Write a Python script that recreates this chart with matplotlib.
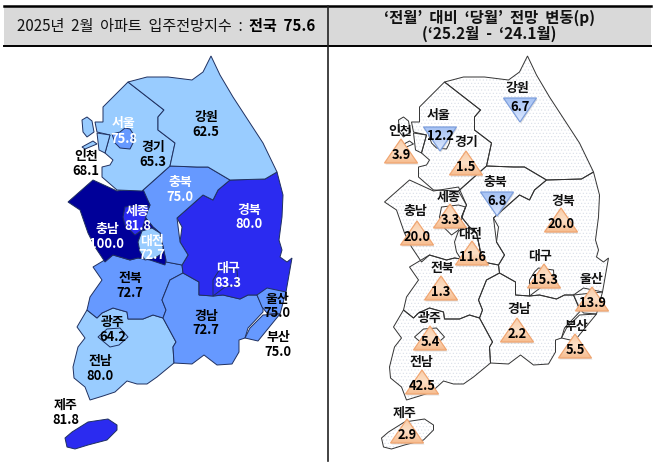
import numpy as np
import matplotlib
matplotlib.use('Agg')
import matplotlib.pyplot as plt
from matplotlib.colors import LinearSegmentedColormap
from matplotlib.patches import Polygon, Rectangle

plt.rcParams['font.family'] = ['Noto Sans CJK KR', 'DejaVu Sans']
plt.rcParams['hatch.linewidth'] = 0.4

# 입주전망지수 / 전월 대비 변동 (음수는 하락 - 아래 삼각형)
regions = ['강원', '경기', '인천', '서울', '충북', '충남', '세종', '대전', '경북', '대구',
           '전북', '경남', '울산', '부산', '전남', '광주', '제주']
index_values = [62.5, 65.3, 68.1, 75.8, 75.0, 100.0, 81.8, 72.7, 80.0, 83.3,
                72.7, 72.7, 75.0, 75.0, 80.0, 64.2, 81.8]
change_values = [-6.7, 1.5, 3.9, -12.2, -6.8, 20.0, 3.3, 11.6, 20.0, 15.3,
                 1.3, 2.2, 13.9, 5.5, 42.5, 5.4, 2.9]

LIGHT, MID, BLUE, NAVY = '#99CCFF', '#6699FF', '#2B2BF0', '#000099'
region_colors = [LIGHT, LIGHT, LIGHT, MID, MID, NAVY, BLUE, LIGHT, BLUE, BLUE,
                 MID, MID, MID, MID, LIGHT, LIGHT, BLUE]
white_labels = ['서울', '충북', '충남', '세종', '대전', '경북', '대구']

# 지도 윤곽 (그림 좌표)
outlines = {
    '전남': [[(87,310),(97,318),(102,313),(113,308),(127,312),(128,319),(143,319),(153,315),(163,318),
             (176,342),(173,347),(174,363),(157,377),(147,384),(137,384),(127,381),(115,392),(103,396),
             (90,400),(85,387),(74,378),(73,367),(78,347),(85,338),(77,327)]],
    '전북': [[(93,267),(113,255),(130,260),(138,258),(167,262),(182,265),(183,273),(170,280),(162,300),
             (166,310),(163,318),(153,315),(143,319),(128,319),(127,312),(113,308),(102,313),(97,318),
             (87,310),(90,297),(102,280)]],
    '경남': [[(183,273),(199,282),(199,295),(213,296),(223,295),(240,299),(248,295),(257,295),(263,308),
             (263,312),(248,328),(245,338),(239,340),(239,352),(232,364),(217,365),(204,355),(192,364),
             (174,363),(173,347),(176,342),(163,318),(166,310),(162,300),(170,280)]],
    '경북': [[(277,172),(283,195),(282,217),(279,240),(282,250),(280,257),(287,262),(292,258),(286,292),
             (257,295),(248,295),(240,299),(223,295),(213,296),(199,295),(199,282),(183,273),(182,265),
             (188,255),(180,242),(182,227),(177,218),(203,195),(213,200),(218,190),(230,180),(265,179)]],
    '대구': [[(213,296),(213,280),(218,272),(222,268),(237,270),(238,285),(225,287)]],
    '충북': [[(170,166),(197,167),(208,167),(230,180),(218,190),(213,200),(203,195),(177,218),(180,242),
             (188,255),(182,265),(166,262),(160,233),(153,227),(145,217),(150,205),(143,193),(142,191)]],
    '충남': [[(68,202),(93,180),(117,191),(142,187),(150,205),(145,217),(153,227),(160,233),(166,260),
             (165,265),(150,260),(138,258),(130,260),(113,255),(105,262),(95,247),(88,233),(80,210)]],
    '세종': [[(125,207),(142,205),(149,207),(147,213),(142,230),(135,235),(125,225),(123,217)]],
    '대전': [[(142,231),(152,228),(160,233),(163,247),(163,253),(155,258),(145,260),(140,252),(138,242)]],
    '경기': [[(128,82),(103,107),(103,122),(95,122),(97,132),(110,135),(105,153),(113,160),(110,165),
             (102,167),(102,177),(117,190),(142,191),(170,166),(175,143),(158,130),(158,117),(164,110)]],
    '강원': [[(128,82),(147,77),(168,77),(192,80),(203,72),(211,56),(220,75),(233,97),(248,120),(263,143),
             (277,172),(265,179),(230,180),(208,167),(197,167),(170,166),(175,143),(158,130),(158,117),(164,110)]],
    '서울': [[(112,134),(120,132),(125,128),(130,129),(134,135),(133,143),(130,149),(120,148),(115,143)]],
    '인천': [[(82,120),(87,117),(92,121),(94,132),(87,137),(83,132)],
             [(82,147),(93,141),(97,144),(85,149)],
             [(97,133),(110,135),(105,153),(99,150)]],
    '울산': [[(257,295),(267,288),(286,292),(280,314),(267,313),(262,307)]],
    '부산': [[(245,338),(250,328),(263,315),(280,314),(271,325),(258,341)]],
    '광주': [[(98,337),(107,329),(120,328),(128,337),(119,345),(110,347)]],
    '제주': [[(65,438),(72,432),(88,422),(108,419),(117,425),(117,430),(107,440),(88,445),(75,449),(67,447)]],
}

# 왼쪽 지도 라벨 위치 (x, 지역명 y, 값 y)
left_labels = {
    '서울': (124,123,139), '강원': (206,117,132), '경기': (153,147,162), '인천': (86,156,171),
    '충북': (180,182,197), '경북': (249,210,224), '세종': (138,211,226), '충남': (107,229,244),
    '대전': (152,241,255), '전북': (130,278,293), '대구': (228,268,283), '울산': (277,299,313),
    '부산': (278,337,352), '경남': (206,316,330), '광주': (113,322,337), '전남': (100,361,376),
    '제주': (66,405,420),
}
# 오른쪽 지도 라벨 위치 (x, y) / 삼각형 위치 (중심 x, 위쪽 y)
right_labels = {
    '강원': (517,88), '서울': (439,115), '인천': (400,131), '경기': (466,142), '충북': (495,182),
    '경북': (563,201), '충남': (415,211), '세종': (449,197), '대전': (470,234), '전북': (442,268),
    '대구': (540,256), '울산': (591,279), '경남': (519,309), '부산': (576,326), '광주': (430,318),
    '전남': (421,362), '제주': (405,413),
}
tri_pos = {
    '강원': (520,98), '서울': (440,127), '인천': (401,139), '경기': (466,151), '충북': (497,192),
    '경북': (561,208), '충남': (417,221), '세종': (450,204), '대전': (472,241), '전북': (441,276),
    '대구': (544,264), '울산': (592,287), '경남': (517,318), '부산': (575,334), '광주': (430,326),
    '전남': (422,370), '제주': (407,419),
}
right_shift = 316.5

fig = plt.figure(figsize=(6.58, 4.62), dpi=100)
ax = fig.add_axes([0, 0, 1, 1])
ax.axis('off')

# 머리글
ax.add_patch(Rectangle((4, 6), 647, 40, facecolor='#D9D9D9', edgecolor='none', zorder=1))
ax.plot([4, 651], [6, 6], color='black', lw=1.8, zorder=2)
ax.plot([4, 651], [46, 46], color='black', lw=1.4, zorder=2)
ax.plot([328, 328], [6, 461], color='#222222', lw=1.2, zorder=2)

ax.text(17, 26, '2025년  2월  아파트  입주전망지수  :', fontsize=10.9, ha='left', va='center', color='#111111')
ax.text(315, 26, '전국  75.6', fontsize=10.9, ha='right', va='center', weight='bold', color='black')
ax.text(489, 18, '‘전월’  대비  ‘당월’  전망  변동(p)', fontsize=11.1, ha='center', va='center',
        weight='bold', color='#111111')
ax.text(489, 34, '(‘25.2월  -  ‘24.1월)', fontsize=11.1, ha='center', va='center',
        weight='bold', color='#111111')

# 왼쪽 지도
for name, parts in outlines.items():
    color = region_colors[regions.index(name)]
    for part in parts:
        ax.add_patch(Polygon(part, closed=True, facecolor=color, edgecolor='#1F3060', lw=0.7, zorder=3))

for name, (x, y1, y2) in left_labels.items():
    val = index_values[regions.index(name)]
    c = 'white' if name in white_labels else 'black'
    ax.text(x, y1, name, fontsize=9.3, ha='center', va='center', weight='bold', color=c, zorder=6)
    ax.text(x, y2, f'{val:.1f}', fontsize=9.3, ha='center', va='center', weight='bold', color=c, zorder=6)

# 오른쪽 지도
for name, parts in outlines.items():
    for part in parts:
        pts = [(px + right_shift, py) for px, py in part]
        ax.add_patch(Polygon(pts, closed=True, facecolor='white', edgecolor='#D8DEE8', hatch='.....',
                             lw=0, zorder=3))
        ax.add_patch(Polygon(pts, closed=True, fill=False, edgecolor='#333333', lw=0.7, zorder=4))

tri_w, tri_h = 16.5, 24
grad = np.linspace(0, 1, 32).reshape(-1, 1)
up_cmap = LinearSegmentedColormap.from_list('up', ['#F9CDA8', '#FCDFC6', '#F6BC8F'])
down_cmap = LinearSegmentedColormap.from_list('down', ['#A6C2F4', '#DDE9FF'])
for name, (cx, top) in tri_pos.items():
    val = change_values[regions.index(name)]
    if val >= 0:
        pts = [(cx, top), (cx + tri_w, top + tri_h), (cx - tri_w, top + tri_h)]
        text_y = top + tri_h - 8
        cmap, edge = up_cmap, '#F0A672'
    else:
        pts = [(cx - tri_w, top), (cx + tri_w, top), (cx, top + tri_h)]
        text_y = top + 9
        cmap, edge = down_cmap, '#7E9FDC'
    ax.add_patch(Polygon([(px + 1, py + 1.5) for px, py in pts], closed=True, facecolor='#999999',
                         edgecolor='none', alpha=0.3, zorder=4.5))
    im = ax.imshow(grad, extent=(cx - tri_w, cx + tri_w, top + tri_h, top), cmap=cmap,
                   aspect='auto', zorder=5)
    tri = Polygon(pts, closed=True, facecolor='none', edgecolor=edge, lw=0.9, zorder=5.5)
    ax.add_patch(tri)
    im.set_clip_path(tri)
    ax.text(cx, text_y, f'{abs(val):.1f}', fontsize=9.3, ha='center', va='center', weight='bold',
            color='black', zorder=7)

for name, (x, y) in right_labels.items():
    ax.text(x, y, name, fontsize=9.3, ha='center', va='center', color='#111111', weight='bold', zorder=7)

ax.set_xlim(0, 658)
ax.set_ylim(462, 0)

fig.savefig('out.png', dpi=100, facecolor='white')
plt.close(fig)
